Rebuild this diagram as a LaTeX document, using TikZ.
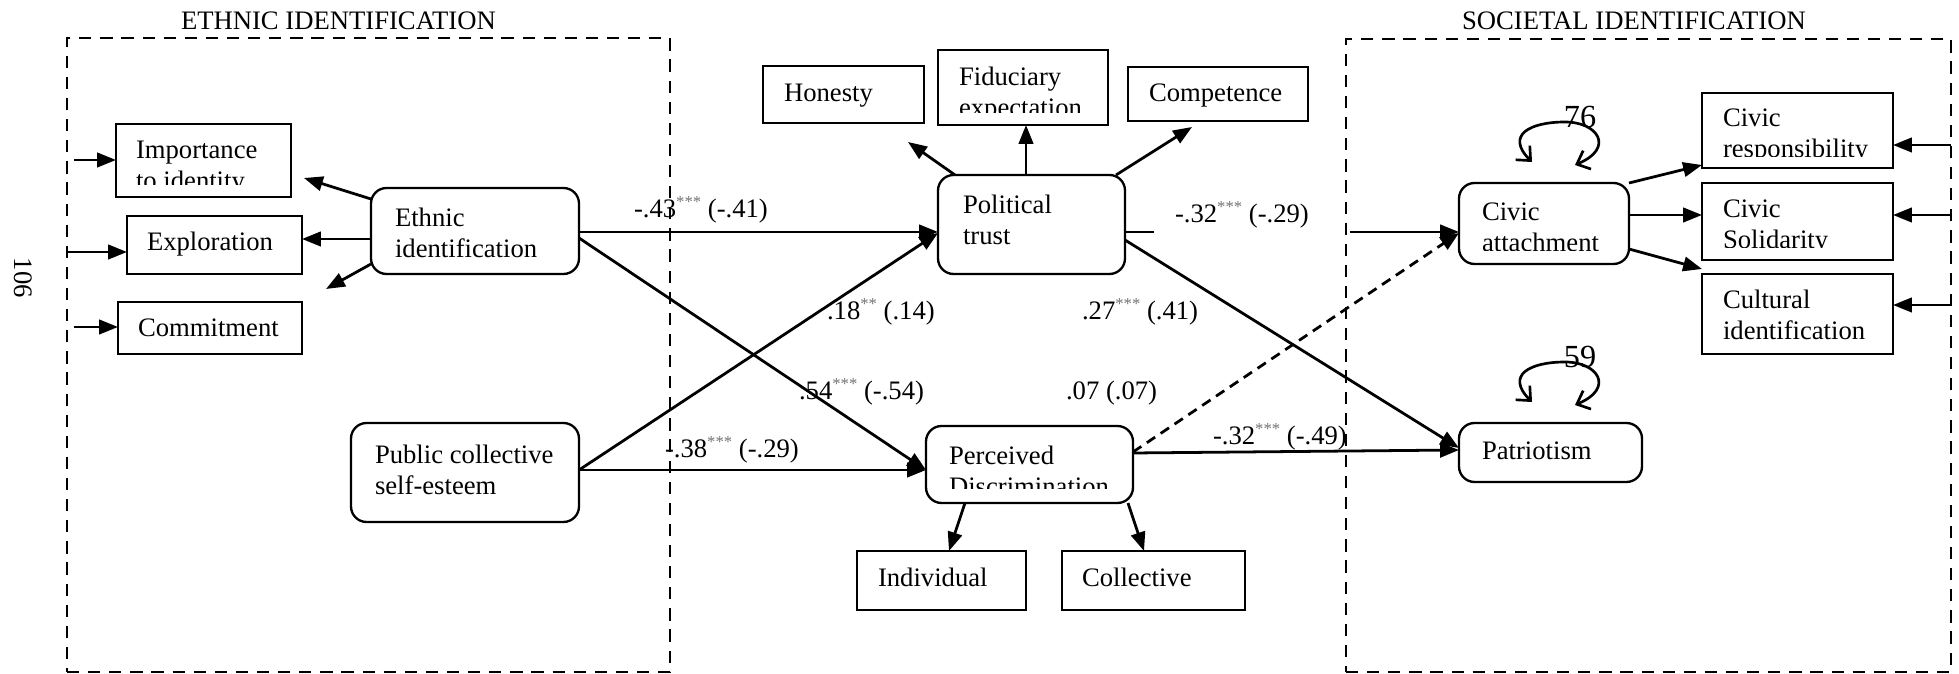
\documentclass[tikz,border=0pt]{standalone}
\usepackage{fontspec}
\setmainfont{Liberation Serif}
\usetikzlibrary{arrows.meta}
\newcommand\sigst[1]{\raisebox{4.5pt}{\fontsize{7.5}{8}\selectfont\color{black!55}#1}}
\begin{document}
\begin{tikzpicture}[x=0.45pt,y=-0.45pt,
  every node/.style={inner sep=0pt, outer sep=0pt, font=\fontsize{12}{14}\selectfont},
  sq/.style={draw, line width=1.05pt, anchor=north west},
  rbox/.style={sq, rounded corners=7pt},
  wh/.style 2 args={minimum width=#1*0.45pt, minimum height=#2*0.45pt},
  txt/.style={anchor=north west, align=left},
  stxt/.style={anchor=base west},
  arr/.style={line width=1.25pt, -{Triangle[length=8.5pt,width=6.5pt]}},
  frame/.style={draw, anchor=north west, line width=1.2pt, dash pattern=on 5.5pt off 4pt},
  coef/.style={anchor=base west},
  varloop/.style={line width=1.2pt, {Straight Barb[length=5pt,width=9pt]}-{Straight Barb[length=5pt,width=9pt]}},
]
\useasboundingbox (0,0) rectangle (1959,674);

% frames and titles
\node[frame, wh={603}{634}] (lf) at (67,38) {};
\node[frame, wh={605}{633}] (rf) at (1346,39) {};
\node[anchor=base west] (t1) at (181,30) {ETHNIC IDENTIFICATION};
\node[anchor=base west] (t2) at (1462,30) {SOCIETAL IDENTIFICATION};
\node[rotate=-90] (pg) at (23,278) {106};

% boxes
\node[sq, wh={175}{73}] (imp) at (116,124) {};
\node[sq, wh={175}{58}] (exp) at (127,216) {};
\node[sq, wh={184}{52}] (com) at (118,302) {};
\node[rbox, wh={208}{86}] (ei) at (371,188) {};
\node[rbox, wh={228}{99}] (pcse) at (351,423) {};
\node[sq, wh={161}{57}] (hon) at (763,66) {};
\node[sq, wh={170}{75}] (fid) at (938,50) {};
\node[sq, wh={180}{54}] (comp) at (1128,67) {};
\node[rbox, wh={187}{99}] (pt) at (938,175) {};
\node[rbox, wh={207}{77}] (pd) at (926,426) {};
\node[sq, wh={169}{59}] (ind) at (857,551) {};
\node[sq, wh={183}{59}] (col) at (1062,551) {};
\node[rbox, wh={170}{81}] (ca) at (1459,183) {};
\node[sq, wh={191}{75}] (cr) at (1702,93) {};
\node[sq, wh={191}{77}] (cs) at (1702,183) {};
\node[sq, wh={191}{80}] (ci) at (1702,274) {};
\node[rbox, wh={183}{59}] (pat) at (1459,423) {};

% single-line texts
\node[stxt] (exp-t) at (147,251) {Exploration};
\node[stxt] (com-t) at (138,337) {Commitment};
\node[stxt] (hon-t) at (784,102) {Honesty};
\node[stxt] (comp-t) at (1149,102) {Competence};
\node[stxt] (ind-t) at (878,587) {Individual};
\node[stxt] (col-t) at (1082,587) {Collective};
\node[stxt] (pat-t) at (1482,460) {Patriotism};

% two-line texts
\node[txt] (ei-t) at (395,208) {Ethnic\\identification};
\node[txt] (pcse-t) at (375,445) {Public collective\\self-esteem};
\node[txt] (pt-t) at (963,195) {Political\\trust};
\node[txt] (ci-t) at (1723,290) {Cultural\\identification};
\begin{scope}
  \clip (imp.north west) rectangle (imp.east |- 0,185);
  \node[txt] (imp-t) at (136,141) {Importance\\to identity};
\end{scope}
\begin{scope}
  \clip (fid.north west) rectangle (fid.east |- 0,113);
  \node[txt] (fid-t) at (959,67) {Fiduciary\\expectation};
\end{scope}
\begin{scope}
  \clip (pd.north west) rectangle (pd.east |- 0,489);
  \node[txt] (pd-t) at (949,446) {Perceived\\Discrimination};
\end{scope}
\begin{scope}
  \clip (ca.north west) rectangle (ca.east |- 0,251);
  \node[txt] (ca-t) at (1482,203) {Civic\\attachment};
\end{scope}
\begin{scope}
  \clip (cr.north west) rectangle (cr.east |- 0,157);
  \node[txt] (cr-t) at (1723,109) {Civic\\responsibility};
\end{scope}
\begin{scope}
  \clip (cs.north west) rectangle (cs.east |- 0,248);
  \node[txt] (cs-t) at (1723,200) {Civic\\Solidarity};
\end{scope}

% free ends
\coordinate (a1) at (74,160);
\coordinate (a2) at (67,252);
\coordinate (a3) at (74,327);
\coordinate (e1) at (304,178);
\coordinate (e3) at (326,289);
\coordinate (h1) at (908,142);
\coordinate (c1) at (1192,127);
\coordinate (s1) at (1154,232);
\coordinate (s2) at (1350,232);
\coordinate (r1) at (1951,145);
\coordinate (r2) at (1951,215);
\coordinate (r3) at (1951,305);

% connectors
\draw[arr] (a1) -- (a1 -| imp.west);
\draw[arr] (a2) -- (a2 -| exp.west);
\draw[arr] (a3) -- (a3 -| com.west);
\draw[arr] (ei.west |- 0,199) -- (e1);
\draw[arr] (ei.west |- 0,239) -- (exp.east |- 0,239);
\draw[arr] (ei.west |- 0,264) -- (e3);
\draw[arr] (ei.east |- 0,232) -- (pt.west |- 0,232);
\draw[arr] (ei.east |- 0,238) -- (pd.west |- 0,470);
\draw[arr] (pcse.east |- 0,470) -- (pt.west |- 0,233);
\draw[arr] (pcse.east |- 0,470) -- (pd.west |- 0,470);
\draw[arr] (pt.north -| 955,0) -- (h1);
\draw[arr] (pt.north -| 1026,0) -- (fid.south -| 1026,0);
\draw[arr] (pt.north -| 1116,0) -- (c1);
\draw[arr] (pt.east |- s1) -- (s1) (s2) -- (ca.west |- s2);
\draw[arr] (pt.east |- 0,240) -- (pat.west |- 0,448);
\draw[arr] (pd.south -| 965,0) -- (ind.north -| 949,0);
\draw[arr] (pd.south -| 1128,0) -- (col.north -| 1144,0);
\draw[arr] (pd.east |- 0,453) -- (pat.west |- 0,450);
\draw[arr, dash pattern=on 4.5pt off 3pt] (pd.east |- 0,452) -- (ca.west |- 0,233);
\draw[arr] (ca.north east) -- (cr.west |- 0,165);
\draw[arr] (ca.east |- 0,215) -- (cs.west |- 0,215);
\draw[arr] (ca.east |- 0,249) -- (ci.west |- 0,269);
\draw[arr] (r1) -- (r1 -| cr.east);
\draw[arr] (r2) -- (r2 -| cs.east);
\draw[arr] (r3) -- (r3 -| ci.east);

% variance loops
\coordinate (l1a) at (1532,162);
\coordinate (l1b) at (1575,165);
\coordinate (l2a) at (1532,402);
\coordinate (l2b) at (1575,405);
\draw[varloop] (l1a) .. controls (1505,135) and (1530,122) .. (1565,122) .. controls (1598,122) and (1615,148) .. (l1b);
\draw[varloop] (l2a) .. controls (1505,375) and (1530,362) .. (1565,362) .. controls (1598,362) and (1615,388) .. (l2b);
\node[font=\fontsize{14.5}{16}\selectfont] (v76) at (1580,117) {76};
\node[font=\fontsize{14.5}{16}\selectfont] (v59) at (1580,357) {59};

% coefficients
\node[coef] (k1) at (634,218) {-.43\sigst{***} (-.41)};
\node[coef] (k2) at (665,458) {-.38\sigst{***} (-.29)};
\node[coef] (k3) at (827,320) {.18\sigst{**} (.14)};
\node[coef] (k4) at (1082,320) {.27\sigst{***} (.41)};
\node[coef] (k5) at (799,400) {.54\sigst{***} (-.54)};
\node[coef] (k6) at (1066,400) {.07 (.07)};
\node[coef] (k7) at (1213,445) {-.32\sigst{***} (-.49)};
\node[coef] (k8) at (1175,223) {-.32\sigst{***} (-.29)};
\end{tikzpicture}
\end{document}
